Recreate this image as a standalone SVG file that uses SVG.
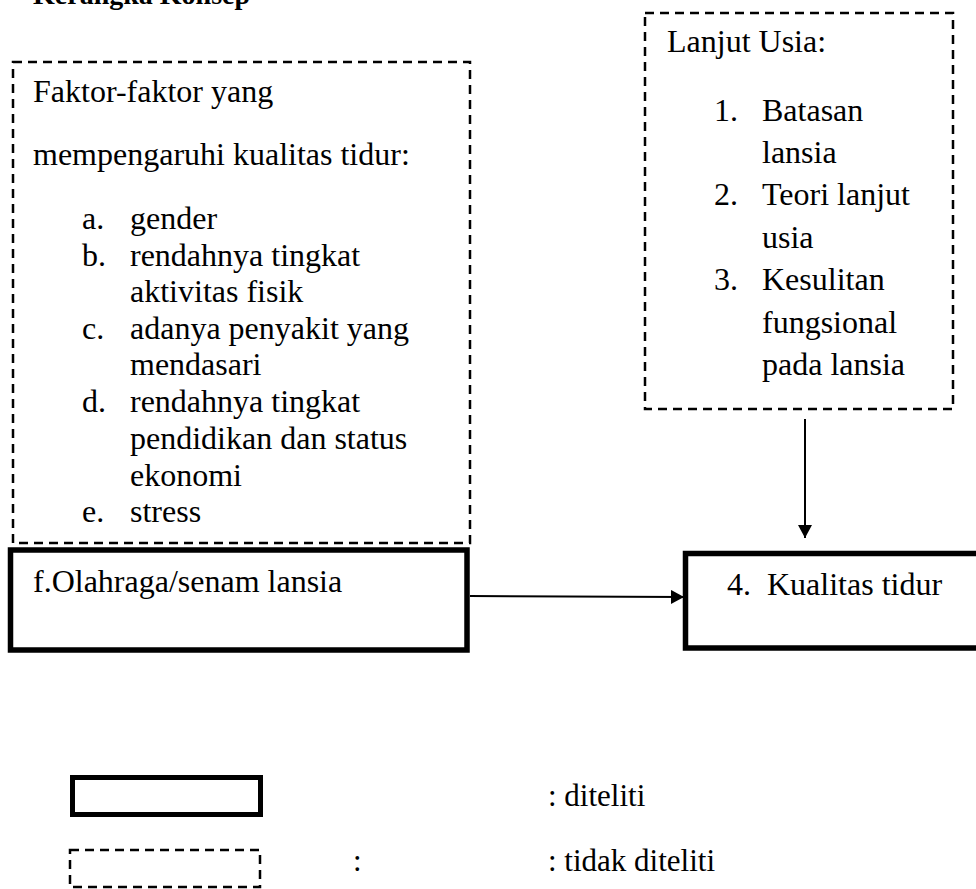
<svg xmlns="http://www.w3.org/2000/svg" width="976" height="889" viewBox="0 0 976 889" font-family="'Liberation Serif', 'Times New Roman', serif">
<style>
.t { font-family: "Liberation Serif", "Times New Roman", serif; font-size: 32px; fill: #000; }
.h { font-family: "Liberation Serif", "Times New Roman", serif; font-weight: bold; font-size: 28px; fill: #000; }
.dash { fill: none; stroke: #000; stroke-width: 2.5; stroke-dasharray: 9 6; }
.solid { fill: none; stroke: #000; stroke-width: 5.5; }
.conn { stroke: #000; stroke-width: 2; fill: none; }
.lg { font-family: "Liberation Serif", "Times New Roman", serif; font-size: 31px; fill: #000; }
</style>
<defs>
<marker id="arr" markerUnits="userSpaceOnUse" markerWidth="14" markerHeight="16" refX="13" refY="7" orient="auto">
<path d="M0,0 L13,7 L0,14 Z" fill="#000"/>
</marker>
</defs>
<rect width="976" height="889" fill="#fff"/>
<text class="h" x="33" y="4">Kerangka Konsep</text>

<g id="faktor" class="t" font-family="'Liberation Serif', serif">
<rect class="dash" x="13" y="62" width="457" height="481"/>
<text class="t" x="33" y="102">Faktor-faktor yang</text>
<text class="t" x="33" y="165">mempengaruhi kualitas tidur:</text>
<text class="t" x="82" y="229">a.</text><text class="t" x="130" y="229">gender</text>
<text class="t" x="82" y="266">b.</text><text class="t" x="130" y="266">rendahnya tingkat</text>
<text class="t" x="130" y="302">aktivitas fisik</text>
<text class="t" x="82" y="339">c.</text><text class="t" x="130" y="339">adanya penyakit yang</text>
<text class="t" x="130" y="375">mendasari</text>
<text class="t" x="82" y="412">d.</text><text class="t" x="130" y="412">rendahnya tingkat</text>
<text class="t" x="130" y="449">pendidikan dan status</text>
<text class="t" x="130" y="486">ekonomi</text>
<text class="t" x="82" y="522">e.</text><text class="t" x="130" y="522">stress</text>
</g>

<g id="lansia" class="t" font-family="'Liberation Serif', serif">
<rect class="dash" x="645" y="13" width="308" height="396"/>
<text class="t" x="667" y="52">Lanjut Usia:</text>
<text class="t" x="714" y="121">1.</text><text class="t" x="762" y="121">Batasan</text>
<text class="t" x="762" y="163">lansia</text>
<text class="t" x="714" y="205">2.</text><text class="t" x="762" y="205">Teori lanjut</text>
<text class="t" x="762" y="248">usia</text>
<text class="t" x="714" y="290">3.</text><text class="t" x="762" y="290">Kesulitan</text>
<text class="t" x="762" y="333">fungsional</text>
<text class="t" x="762" y="375">pada lansia</text>
</g>

<g id="olahraga" class="t" font-family="'Liberation Serif', serif">
<rect class="solid" x="10.5" y="550" width="456.5" height="100"/>
<text class="t" x="33" y="592">f.Olahraga/senam lansia</text>
</g>

<g id="kualitas" class="t" font-family="'Liberation Serif', serif">
<rect class="solid" x="685.5" y="553.5" width="300" height="94.5"/>
<text class="t" x="727" y="595">4.</text><text class="t" x="767" y="595">Kualitas tidur</text>
</g>

<g id="connectors">
<line class="conn" x1="470" y1="596" x2="684" y2="597" marker-end="url(#arr)"/>
<line class="conn" x1="805" y1="419" x2="805" y2="538" marker-end="url(#arr)"/>
</g>

<g id="legend">
<rect x="72.5" y="777.5" width="188" height="37" fill="none" stroke="#000" stroke-width="5"/>
<text class="lg" x="548" y="806">: diteliti</text>
<rect class="dash" x="70" y="850" width="190" height="37"/>
<text class="lg" x="353" y="871">:</text>
<text class="lg" x="548" y="871">: tidak diteliti</text>
</g>
</svg>
